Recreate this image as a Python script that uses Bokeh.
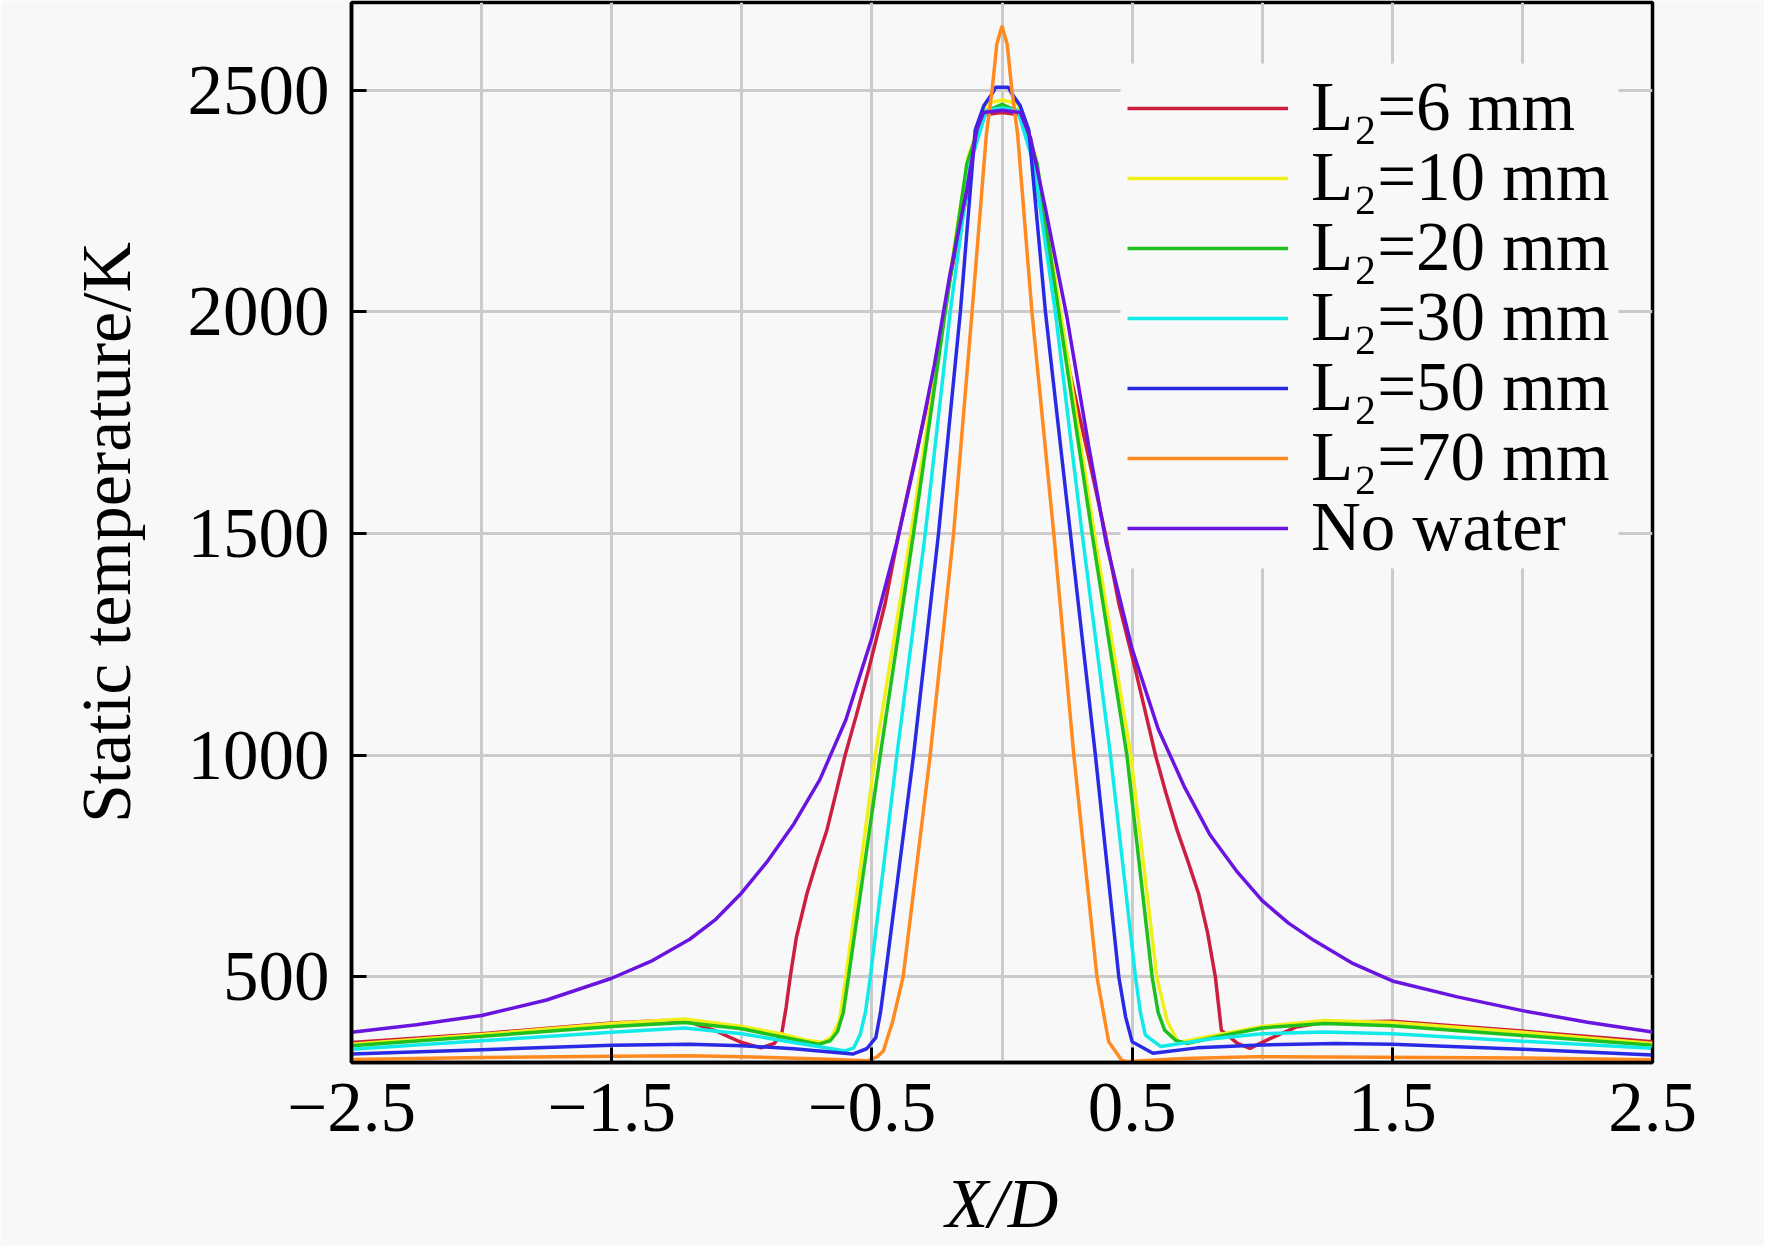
from bokeh.plotting import figure
from bokeh.models import Range1d, FixedTicker, Legend, LegendItem, BoxAnnotation
from bokeh.embed import file_html
from bokeh.resources import INLINE

# ---------------- data ----------------
X_TICKS = [-2.5, -1.5, -0.5, 0.5, 1.5, 2.5]
X_TICK_LABELS = ["\u22122.5", "\u22121.5", "\u22120.5", "0.5", "1.5", "2.5"]
X_GRID = [-2.0, -1.5, -1.0, -0.5, 0.0, 0.5, 1.0, 1.5, 2.0]
Y_TICKS = [500, 1000, 1500, 2000, 2500]

L6_X = [-2.5, -2.0, -1.5, -1.3, -1.2, -1.1, -1.0, -0.926, -0.875, -0.846,
        -0.83, -0.814, -0.79, -0.75, -0.71, -0.673, -0.64, -0.603, -0.56, -0.513,
        -0.45, -0.397, -0.33, -0.26, -0.2, -0.135, -0.1, -0.07, 0.0, 0.07,
        0.1, 0.14, 0.2, 0.26, 0.33, 0.397, 0.45, 0.513, 0.55, 0.59,
        0.63, 0.673, 0.715, 0.756, 0.79, 0.82, 0.843, 0.905, 0.953, 1.03,
        1.13, 1.24, 1.5, 2.0, 2.5]
L6_Y = [352, 372, 396, 402, 398, 378, 352, 340, 350, 374,
        430, 500, 590, 687, 765, 831, 910, 1000, 1090, 1192,
        1340, 1500, 1680, 1865, 2075, 2265, 2400, 2445, 2450, 2445,
        2400, 2260, 2075, 1865, 1680, 1500, 1340, 1192, 1100, 1000,
        915, 831, 760, 687, 600, 500, 380, 350, 339, 361,
        387, 398, 400, 378, 354]

L10_X = [-2.5, -2.0, -1.5, -1.22, -1.0, -0.85, -0.75, -0.69, -0.655, -0.625,
         -0.6, -0.487, -0.35, -0.222, -0.13, -0.06, 0.0, 0.06, 0.13, 0.225,
         0.355, 0.495, 0.595, 0.635, 0.678, 0.85, 1.0, 1.24, 1.5, 2.0, 2.5]
L10_Y = [348, 370, 395, 405, 388, 372, 357, 352, 365, 400,
         500, 1000, 1500, 2000, 2350, 2470, 2478, 2470, 2350, 2000,
         1500, 1000, 500, 400, 352, 372, 388, 402, 397, 375, 350]

L20_X = [-2.5, -2.0, -1.5, -1.22, -1.0, -0.85, -0.706, -0.66, -0.632, -0.61,
         -0.59, -0.468, -0.34, -0.218, -0.135, -0.07, 0.0, 0.07, 0.135, 0.218,
         0.346, 0.48, 0.577, 0.6, 0.625, 0.667, 0.71, 0.85, 1.0, 1.24,
         1.5, 2.0, 2.5]
L20_Y = [345, 366, 388, 397, 383, 365, 348, 356, 377, 420,
         500, 1000, 1500, 2000, 2334, 2450, 2468, 2450, 2334, 2000,
         1500, 1000, 500, 420, 380, 357, 350, 368, 385, 395,
         390, 368, 346]

L30_X = [-2.5, -2.0, -1.5, -1.22, -1.0, -0.8, -0.603, -0.57, -0.545, -0.525,
         -0.506, -0.404, -0.295, -0.199, -0.122, -0.06, 0.0, 0.06, 0.122, 0.205,
         0.308, 0.417, 0.513, 0.532, 0.551, 0.61, 0.8, 1.0, 1.24, 1.5,
         2.0, 2.5]
L30_Y = [337, 356, 375, 385, 372, 352, 333, 340, 370, 420,
         500, 1000, 1500, 2000, 2334, 2455, 2460, 2455, 2334, 2000,
         1500, 1000, 500, 420, 369, 343, 360, 372, 376, 372,
         355, 339]

L50_X = [-2.5, -2.0, -1.5, -1.2, -1.0, -0.8, -0.574, -0.52, -0.485, -0.467,
         -0.449, -0.34, -0.244, -0.16, -0.103, -0.07, -0.035, -0.025, 0.0, 0.025,
         0.035, 0.07, 0.103, 0.167, 0.263, 0.359, 0.449, 0.475, 0.5, 0.58,
         0.75, 0.97, 1.28, 1.5, 2.0, 2.5]
L50_Y = [326, 336, 346, 348, 345, 338, 326, 338, 363, 420,
         500, 1000, 1500, 2000, 2410, 2465, 2495, 2507, 2507, 2507,
         2495, 2465, 2410, 2000, 1500, 1000, 500, 410, 354, 328,
         340, 346, 350, 348, 337, 324]

L70_X = [-2.5, -2.0, -1.5, -1.2, -1.0, -0.7, -0.515, -0.48, -0.456, -0.42,
         -0.38, -0.276, -0.186, -0.115, -0.096, -0.06, -0.038, -0.02, 0.0, 0.02,
         0.038, 0.06, 0.096, 0.115, 0.199, 0.276, 0.365, 0.41, 0.46, 0.485,
         0.7, 0.97, 1.45, 2.0, 2.5]
L70_Y = [314, 318, 321, 322, 320, 315, 311, 320, 333, 400,
         500, 1000, 1500, 2000, 2138, 2401, 2500, 2604, 2645, 2604,
         2500, 2401, 2138, 2000, 1500, 1000, 500, 354, 312, 309,
         316, 320, 319, 317, 313]

NOWATER_X = [-2.5, -2.25, -2.0, -1.75, -1.5, -1.35, -1.2, -1.1, -1.0, -0.9,
             -0.8, -0.7, -0.6, -0.5, -0.4, -0.33, -0.26, -0.2, -0.135, -0.096,
             -0.07, 0.0, 0.07, 0.11, 0.167, 0.25, 0.333, 0.4, 0.5, 0.6,
             0.7, 0.8, 0.9, 1.0, 1.1, 1.2, 1.35, 1.5, 1.75, 2.0,
             2.25, 2.5]
NOWATER_Y = [375, 392, 413, 448, 497, 535, 585, 630, 690, 762,
             845, 945, 1080, 1265, 1490, 1675, 1880, 2085, 2276, 2413,
             2450, 2455, 2450, 2392, 2233, 1987, 1698, 1480, 1240, 1060,
             930, 820, 740, 672, 622, 582, 530, 491, 455, 424,
             398, 376]

SERIES_LABELS = ["L\u2082=6 mm", "L\u2082=10 mm", "L\u2082=20 mm", "L\u2082=30 mm",
                 "L\u2082=50 mm", "L\u2082=70 mm", "No water"]
SERIES_X = [L6_X, L10_X, L20_X, L30_X, L50_X, L70_X, NOWATER_X]
SERIES_Y = [L6_Y, L10_Y, L20_Y, L30_Y, L50_Y, L70_Y, NOWATER_Y]
SERIES_COLORS = ["#cc1f3f", "#f0f018", "#1ec01e", "#12eaea", "#2a2ae6", "#ff8a20", "#6a14e0"]

# ---------------- figure ----------------
FONT = "Liberation Serif"
BG = "#f8f8f8"

p = figure(frame_width=1301, frame_height=1060,
           min_border_left=351, min_border_right=112,
           min_border_top=2, min_border_bottom=184,
           x_range=Range1d(-2.5, 2.5), y_range=Range1d(307, 2698),
           output_backend="svg", toolbar_location=None,
           background_fill_color=BG, border_fill_color=BG)

p.outline_line_color = "black"
p.outline_line_width = 3.5

for ax in (p.xaxis[0], p.yaxis[0]):
    ax.axis_line_color = "black"
    ax.axis_line_width = 3.5
    ax.major_tick_in = 15
    ax.major_tick_out = 0
    ax.major_tick_line_width = 3
    ax.major_tick_line_color = "black"
    ax.minor_tick_line_color = None
    ax.major_label_text_font = FONT
    ax.major_label_text_font_size = "71px"
    ax.major_label_text_color = "black"
    ax.axis_label_text_font = FONT
    ax.axis_label_text_font_size = "70px"
    ax.axis_label_text_color = "black"

p.xaxis.ticker = FixedTicker(ticks=X_TICKS)
p.xaxis.major_label_overrides = {t: s for t, s in zip(X_TICKS, X_TICK_LABELS)}
p.xaxis.major_label_standoff = 21
p.xaxis.axis_label = "X/D"
p.xaxis.axis_label_text_font_style = "italic"
p.xaxis.axis_label_standoff = 31

p.yaxis.ticker = FixedTicker(ticks=Y_TICKS)
p.yaxis.major_label_standoff = 22
p.yaxis.axis_label = "Static temperature/K"
p.yaxis.axis_label_text_font_style = "normal"
p.yaxis.axis_label_standoff = 40

p.xgrid.ticker = FixedTicker(ticks=X_GRID)
p.ygrid.ticker = FixedTicker(ticks=Y_TICKS)
for g in (p.xgrid[0], p.ygrid[0]):
    g.grid_line_color = "#cbcbcb"
    g.grid_line_width = 3

renderers = []
for xs, ys, col in zip(SERIES_X, SERIES_Y, SERIES_COLORS):
    renderers.append(p.line(xs, ys, line_color=col, line_width=3.5))

# legend background (covers the grid, as in the reference)
p.add_layout(BoxAnnotation(left=769, right=1267, bottom=494, top=999,
                           left_units="screen", right_units="screen",
                           bottom_units="screen", top_units="screen",
                           fill_color=BG, fill_alpha=1.0, line_color=None))

# one single-row legend per series, so the row pitch matches the reference
ROW_BOTTOMS = [915, 845, 775, 705, 635, 565, 495]
for lab, r, yb in zip(SERIES_LABELS, renderers, ROW_BOTTOMS):
    lg = Legend(items=[LegendItem(label=lab, renderers=[r])], location=(776, yb))
    lg.label_text_font = FONT
    lg.label_text_font_size = "69px"
    lg.label_text_color = "black"
    lg.glyph_width = 161
    lg.glyph_height = 20
    lg.label_height = 20
    lg.spacing = 0
    lg.padding = 0
    lg.margin = 0
    lg.label_standoff = 23
    lg.background_fill_alpha = 0.0
    lg.border_line_color = None
    p.add_layout(lg)

open("out.html", "w").write(file_html(p, INLINE))
